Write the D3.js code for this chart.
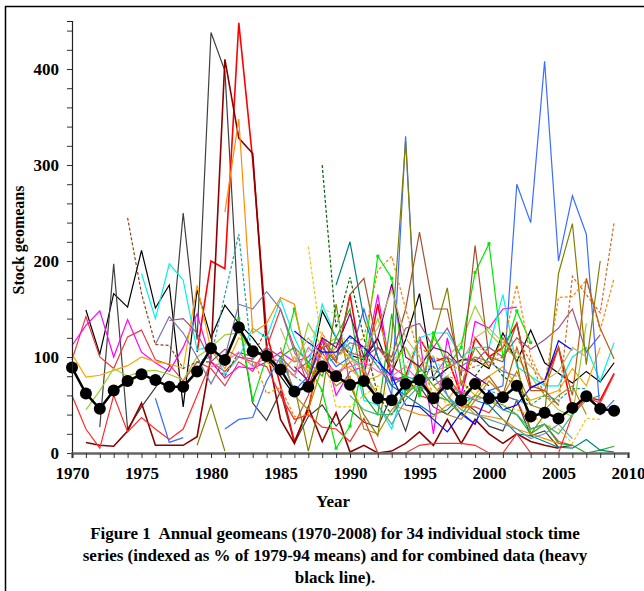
<!DOCTYPE html>
<html>
<head>
<meta charset="utf-8">
<script src="https://cdn.jsdelivr.net/npm/d3@7"></script>
<style>
  body { margin: 0; background: #fff; }
  text { font-family: "Liberation Serif", "Times New Roman", serif; font-weight: bold; }
</style>
</head>
<body>
<div id="chart"></div>
<script>
// year axis ticks
var tickYears = [1970,1971,1972,1973,1974,1975,1976,1977,1978,1979,1980,1981,1982,1983,1984,1985,1986,1987,1988,1989,
                 1990,1991,1992,1993,1994,1995,1996,1997,1998,1999,2000,2001,2002,2003,2004,2005,2006,2007,2008,2009,2010];
var yTicks = [0,20,40,60,80,100,120,140,160,180,200,220,240,260,280,300,320,340,360,380,400,420,440];

// combined data (heavy black line), 1970-2009
var combined = [89,62,46,65,75,82,76,69,69,85, 109,97,131,106,101,87,64,69,90,80,
                71,75,57,55,72,76,57,72,55,72, 57,58,70,38,42,36,47,59,46,44];

// individual stocks: first year + annual geomeans
var s01 = [1971, 149,103,166,152,211,151,175,48,170, 120,154,135,120,100,80,60,75,148,120, 102,97,119,83,118,166,76,88,97,97, 88,125,95,128,94,83,73,85,74,94];
var s02 = [1972, 27,197,25,48,68,90,250,118, 438,398,140,52,34,64,10,38,50,28, 45,32,27,60,23,70,48,40,55,44, 28,23,55,18,23,6,8];
var s03 = [1979, 105, 200,192,448,305,125,70,12,45,118,95, 165,80,155,75,80,120,95,100,60,120, 100,110,135,68,75,110,45,58,55,83];
var s04 = [1971, 11,8,7,23,52,8,8,8,17, 100,410,328,312,110,35,10,48,12,42, 1,8,0,2,10,22,8,35,10,35, 20,10,20,12,8,5];
var s05 = [1970, 60,25,5,60,22,37,25,14,25,60, 95,85,100,95,90,60,35,40,27,25, 12,36,0,0,0,8,10,10,10,8, 0,0,20,0,0,0,40,58,52,82];
var s06 = [1970, 97,142,100,88,121,128,97,92,75,95, 88,70,95,85,110,150,110,70,105,80, 95,70,110,90,80,60,55,80,48,48, 42,60,55,25,30,12,8];
var s07 = [1970, 112,133,148,100,139,105,94,85,110,145, 95,78,90,88,95,105,95,100,118,60, 85,90,165,80,75,120,20,120,60,137, 130,150,152];
var s08 = [1975, 187,140,197,180,107, 112,82,100,130,120,160,120,90,155,120, 110,55,50,25,75,120,125,125,100,110, 110,165,90,80,70,70,100,110,75,115];
var s09 = [1970, 103,79,81,86,91,100,95,93,88,175, 107,88,120,110,95,82,100,85,120,95, 88,75,80,90,110,80,60,55,75,60, 80,90,70,55,60,65,88,70,110];
var s10 = [1971, 45,65,88,80,85,86,82,76,100, 110,123,125,105,100,95,80,135,110,120, 95,100,140,95,110,85,120,100,115,153, 125,110,100,80,60,45,38,135];
var s11 = [1976, 113,142,125,100, 72,100,155,150,168,150,105,80,120,100, 115,110,90,70,80,75,80,100,90,100, 95,85,80];
var s12 = [1977, 138,140,125, 95,108,100,98,110,100,85,95,110,115, 105,100,110,95,130,135,110,130,100,95, 110,100,120,108,118,130,150,105,123];
var s13 = [1976, 57,11,16,null, null,25,35,37,75,100,65,80,110,90, 100,150,100,60,330,60,100,60,40,30, 65,70,280,240,408,200,268,228,40,55];
var s14 = [1979, 8, 50,2,null,null,null,null,70,2,60,155, 70,40,18,120,325,60,120,172,70,110, 90,120,95,20,40,187,239,92,200];
var s15 = [1982, 140,55,100,95,150,90,65,5, 28,100,205,182,80,60,125,90,110,188, 218,100,148,115];
var s16 = [1985, 100,110,95,80,120, 150,60,40,145,60,90,70,55,40,60, 55,50,40,20,30,10,8,0,3,7];
var s17 = [1988, 300,130, 183,120,60,40,60,80,90,70,60,80, 100,80,70,50];
var s18 = [1989, 175, 220,140,100,70,60,50,40,45,60,55, 50,35,20,18,12,6,5,14,3,1];
var s19 = [1987, 215,110,48, 48,60,70,55,60,80,70,50,45,60, 55,50,45,40,30,25,10,36,35];
var s20 = [1986, 30,60,110,95, 165,182,110,100,150,230,150,150,80,216, 100,95,135,70,65,50];
var s21 = [1983, 100,62,68,38,40,125,100, 110,120,190,205,150,100,60,80,75,100, 90,110,175,100,70,162,163,180,128,182];
var s22 = [1974, 245,166,113,112,88,95, 95,80,105,100,130];
var s23 = [1995, 110,100,95,85,90, 95,100,120,95,60,50,184,165,146,240];
var s24 = [1996, 70,80,60,70, 80,60,110,65,65,110,60,182,130,98];
var s25 = [1981, 251,348,125,135,162,155,80,95,110, 100,85,60,50,45,40,38,50,55,40, 38,35,25,20,15,10];
var s26 = [1979, 95, 100,165,228,90,100,90,80,70,90,100, 120,110,90,80,70,85,90,75,60,70, 65,60,55,50,60,55,67,67];
var s27 = [1986, 127,115,105,105, 122,110,95,80,50,48,35,22,42,30, 65,45,50,68,75,117,107];
var s28 = [1986, 90,75,120,110, 145,100,120,176,100,90,110,105,90,80, 70];
var s29 = [1987, 105,150,145, 100,85,95,110,90,120,100,80,95,110, 105];
var s30 = [1985, 130,95,120,100,80, 100,110,130,170,120,100,85,90,95,120, 130,115,105,90,75,85,110,100];
var s31 = [1980, 90,95,105,90,100,95,80,110,95,85, 90,95,85,80,90,75,60,70,65,55, 60];
var s32 = [1990, 100,90,50,30,55,70,80,60,45,40, 35,30,25,15,20,30,15];
var s33 = [1985, 110,60,45,90,70, 80,25,20,45,60,75,55,40,35,55, 75,60,85,50,45,60,70,40];
var s34 = [1990, 60,45,40,40,65,70,60,55,50,60, 55,45,40,25,30,20,40,55,60];

var stocks = [s01,s02,s03,s04,s05,s06,s07,s08,s09,s10,s11,s12,s13,s14,s15,s16,s17,
              s18,s19,s20,s21,s22,s23,s24,s25,s26,s27,s28,s29,s30,s31,s32,s33,s34];

var colors = ["#000000","#404040","#ff0000","#8b0000","#ff2a2a","#e83838","#ff00ff","#00f0f0","#ffa500","#9acd32",
              "#7a7aa8","#a05080","#3a6cff","#808000","#00e800","#22b022","#006400","#008080","#ffc000","#a0522d",
              "#ff8000","#8b4513","#d2691e","#c05a10","#ff8c00","#20a0a0","#0000ff","#800080","#90ee90","#bdb76b",
              "#ff69b4","#5f9ea0","#b8860b","#3cb371"];
var dashed = [16,18,20,21,22,25,28];

var W = 644, H = 591;
var svg = d3.select("#chart").append("svg")
    .attr("width", W)
    .attr("height", H);

// frame
svg.append("line").attr("x1", 5.5).attr("x2", 5.5).attr("y1", 6).attr("y2", H)
    .attr("stroke", "#000").attr("stroke-width", 1.5);
svg.append("line").attr("x1", 5).attr("x2", W).attr("y1", 6.5).attr("y2", 6.5)
    .attr("stroke", "#000").attr("stroke-width", 1.5);

var x = d3.scaleLinear().domain([1970, 2010]).range([72, 628]);
var y = d3.scaleLinear().domain([0, 450]).range([453, 21]);

var line = d3.line()
    .defined(function (d) { return d.v != null; })
    .x(function (d) { return x(d.year); })
    .y(function (d) { return y(d.v); });

function toPoints(s) {
    return s.slice(1).map(function (v, i) { return { year: s[0] + i, v: v }; });
}

var plot = svg.append("g");

stocks.forEach(function (s, i) {
    var pts = toPoints(s);
    plot.append("path")
        .datum(pts)
        .attr("d", line)
        .attr("fill", "none")
        .attr("stroke", colors[i])
        .attr("stroke-width", (i == 2 || i == 3) ? 1.6 : 1.2)
        .attr("stroke-dasharray", dashed.indexOf(i) >= 0 ? "3,2" : null);
    if (i == 14) {
        plot.selectAll(null)
            .data(pts.filter(function (d) { return d.v != null; }))
            .enter().append("rect")
            .attr("x", function (d) { return x(d.year) - 1.5; })
            .attr("y", function (d) { return y(d.v) - 1.5; })
            .attr("width", 3).attr("height", 3)
            .attr("fill", colors[i]);
    }
});

// combined heavy line
var comb = combined.map(function (v, i) { return { year: 1970 + i, v: v }; });
plot.append("path")
    .datum(comb)
    .attr("d", line)
    .attr("fill", "none")
    .attr("stroke", "#000")
    .attr("stroke-width", 2.5);
plot.selectAll("dot")
    .data(comb)
    .enter().append("circle")
    .attr("cx", function (d) { return x(d.year); })
    .attr("cy", function (d) { return y(d.v); })
    .attr("r", 6)
    .attr("fill", "#000");

// axes
var yAxis = svg.append("g")
    .attr("transform", "translate(72,0)")
    .call(d3.axisLeft(y).tickValues(yTicks).tickSize(5).tickPadding(8)
        .tickFormat(function (d) { return d % 100 == 0 ? d : ""; }));
var xAxis = svg.append("g")
    .attr("transform", "translate(0,453)")
    .call(d3.axisBottom(x).tickValues(tickYears).tickSize(5).tickPadding(9)
        .tickFormat(function (d) { return d % 5 == 0 ? d : ""; }));

[yAxis, xAxis].forEach(function (a) {
    a.selectAll("text")
        .style("font-family", '"Liberation Serif", "Times New Roman", serif')
        .style("font-weight", "bold")
        .style("font-size", "17px")
        .attr("fill", "#000");
    a.selectAll("line").attr("stroke", "#333");
});
yAxis.select(".domain").attr("stroke", "#222").attr("stroke-width", 1.2);
xAxis.select(".domain").attr("stroke", "#666").attr("stroke-width", 2.5);

// labels
svg.append("text")
    .attr("transform", "translate(24,240) rotate(-90)")
    .attr("text-anchor", "middle")
    .style("font-size", "16px")
    .text("Stock geomeans");
svg.append("text")
    .attr("x", 333).attr("y", 507)
    .attr("text-anchor", "middle")
    .style("font-size", "17px")
    .text("Year");

var caption = ["Figure 1  Annual geomeans (1970-2008) for 34 individual stock time",
               "series (indexed as % of 1979-94 means) and for combined data (heavy",
               "black line)."];
svg.selectAll("caption")
    .data(caption)
    .enter().append("text")
    .attr("x", 335)
    .attr("y", function (d, i) { return 539 + i * 22; })
    .attr("text-anchor", "middle")
    .style("font-size", "17px")
    .style("white-space", "pre")
    .text(function (d) { return d; });
</script>
</body>
</html>
